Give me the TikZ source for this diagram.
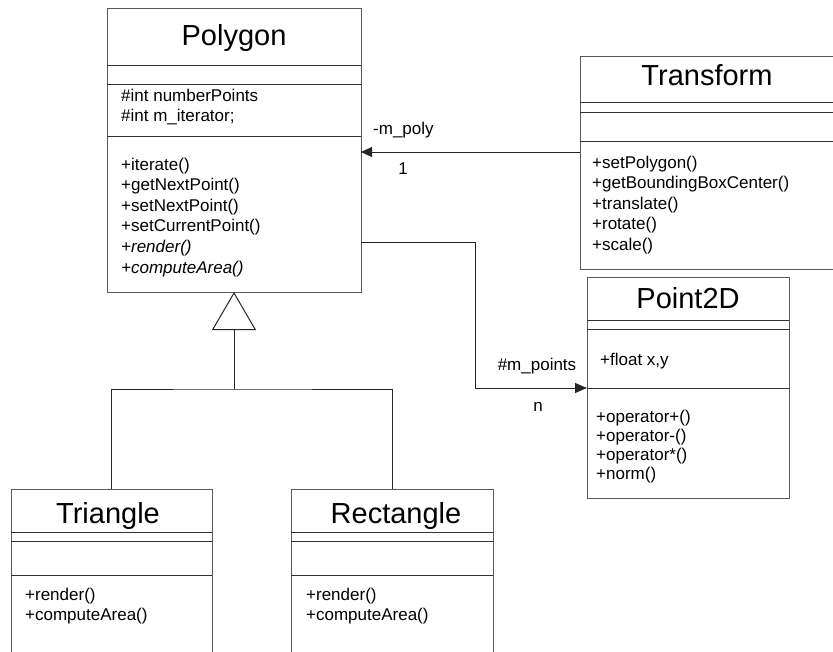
\documentclass[tikz,border=0pt]{standalone}
\usepackage{fontspec}
\setmainfont{Liberation Sans}
\usetikzlibrary{arrows.meta}
\tikzset{
 box/.style={draw=black!65, line width=1pt, inner sep=0pt, outer sep=0pt, anchor=north west},
 sep/.style={draw=black!80, line width=1pt},
 conn/.style={draw=black!85, line width=1pt},
 ttl/.style={font=\fontsize{29}{34}\selectfont, anchor=base, inner sep=0pt},
 txt/.style={font=\fontsize{17}{20}\selectfont, anchor=base west, inner sep=0pt},
 lbl/.style={font=\fontsize{17}{20}\selectfont, anchor=base, inner sep=0pt},
}
\begin{document}
\begin{tikzpicture}[x=1pt,y=-1pt]
\useasboundingbox (0,0) rectangle (833,651);
\clip (0,0) rectangle (833,651);
% ---------- Polygon
\node[box, minimum width=254pt, minimum height=284pt] (poly) at (107,8) {};
\draw[sep] (107,65) -- (361,65) (107,84) -- (361,84) (107,136) -- (361,136);
\node[ttl] (polyT) at (234,45) {Polygon};
\node[txt] (pa1) at (121,101) {\#int numberPoints};
\node[txt] (pa2) at (121,121) {\#int m\_iterator;};
\foreach \t [count=\i] in {+iterate(),+getNextPoint(),+setNextPoint(),+setCurrentPoint(),{\itshape +render()},{\itshape +computeArea()}}
  \node[txt] (pm\i) at (121,{170+20.6*(\i-1)}) {\t};
% ---------- Transform
\node[box, minimum width=270pt, minimum height=213pt] (tr) at (580,56) {};
\draw[sep] (580,102) -- (850,102) (580,112) -- (850,112) (580,141) -- (850,141);
\node[ttl] (trT) at (707,85) {Transform};
\foreach \t [count=\i] in {+setPolygon(),+getBoundingBoxCenter(),+translate(),+rotate(),+scale()}
  \node[txt] (tm\i) at (592,{168+20.6*(\i-1)}) {\t};
% ---------- Point2D
\node[box, minimum width=202pt, minimum height=221pt] (pt) at (587,277) {};
\draw[sep] (587,320) -- (789,320) (587,329) -- (789,329) (587,388) -- (789,388);
\node[ttl] (ptT) at (688,308) {Point2D};
\node[txt] (pta) at (600,365) {+float x,y};
\foreach \t [count=\i] in {+operator+(),+operator-(),+operator*(),+norm()}
  \node[txt] (ptm\i) at (596,{422+19*(\i-1)}) {\t};
% ---------- Triangle
\node[box, minimum width=201pt, minimum height=180pt] (tri) at (11,489) {};
\draw[sep] (11,532) -- (212,532) (11,541) -- (212,541) (11,575) -- (212,575);
\node[ttl] (triT) at (108,523) {Triangle};
\node[txt] (trm1) at (25,600) {+render()};
\node[txt] (trm2) at (25,620) {+computeArea()};
% ---------- Rectangle
\node[box, minimum width=202pt, minimum height=180pt] (rect) at (291,489) {};
\draw[sep] (291,532) -- (493,532) (291,541) -- (493,541) (291,575) -- (493,575);
\node[ttl] (rectT) at (396,523) {Rectangle};
\node[txt] (rcm1) at (306,600) {+render()};
\node[txt] (rcm2) at (306,620) {+computeArea()};
% ---------- generalization
\coordinate (j) at (234,389);
\draw[conn] (tri.north) |- (j) -| (rect.north);
\draw[conn, -{Triangle[open, length=38pt, width=44pt, fill=white]}] (j) -- (poly.south);
% ---------- association Transform -> Polygon
\coordinate (y1) at (0,152);
\draw[conn, -{Triangle[length=11pt, width=10pt]}] (tr.west |- y1) -- (poly.east |- y1);
\node[txt] (l1) at (373,134) {-m\_poly};
\node[lbl] (l2) at (403,174) {1};
% ---------- association Polygon -> Point2D
\coordinate (y2) at (0,242);
\coordinate (e) at (475,388);
\draw[conn, -{Triangle[length=12pt, width=10pt]}] (poly.east |- y2) -| (e) -- (pt.west |- e);
\node[lbl] (l3) at (537,370) {\#m\_points};
\node[lbl] (l4) at (538,411) {n};
\end{tikzpicture}
\end{document}
